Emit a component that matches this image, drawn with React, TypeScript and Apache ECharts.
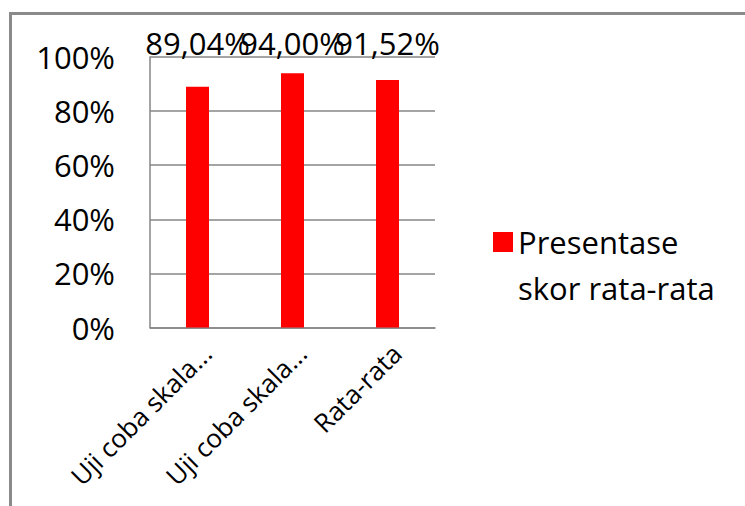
import React, { useEffect, useRef } from "react";
import * as echarts from "echarts";

const categories = ["Uji coba skala...", "Uji coba skala...", "Rata-rata"];
const values = [89.04, 94.0, 91.52];
const seriesName = "Presentase\nskor rata-rata";
const yTicks = [0, 20, 40, 60, 80, 100];

const FONT = "'Open Sans', sans-serif";

export default function App() {
  const ref = useRef<HTMLDivElement>(null);
  useEffect(() => {
    if (!ref.current) return;
    const chart = echarts.init(ref.current, undefined, { renderer: "svg" });
    chart.setOption({
      animation: false,
      backgroundColor: "#fff",
      textStyle: { fontFamily: FONT },
      grid: { left: 150, right: 310, top: 57, bottom: 178.5, containLabel: false },
      legend: {
        data: [seriesName],
        orient: "vertical",
        left: 493,
        top: 173,
        padding: 0,
        itemWidth: 20,
        itemHeight: 20,
        icon: "rect",
        formatter: (name: string) => "\n" + name,
        textStyle: {
          fontFamily: FONT,
          fontSize: 31,
          color: "#000",
          lineHeight: 46,
        },
      },
      xAxis: {
        type: "category",
        data: categories,
        axisLine: { lineStyle: { color: "#868686", width: 1.5 } },
        axisTick: { show: false },
        axisLabel: {
          rotate: 45,
          interval: 0,
          margin: 12,
          verticalAlign: "top",
          fontFamily: FONT,
          fontSize: 26,
          color: "#000",
        },
      },
      yAxis: {
        type: "value",
        min: 0,
        max: 100,
        interval: 20,
        axisLine: { show: true, lineStyle: { color: "#868686", width: 1.5 } },
        axisTick: { show: false },
        splitLine: { lineStyle: { color: "#868686", width: 1.5 } },
        axisLabel: {
          margin: 35,
          fontFamily: FONT,
          fontSize: 31,
          color: "#000",
          formatter: (v: number) => (yTicks.includes(v) ? v + "%" : ""),
        },
      },
      series: [
        {
          name: seriesName,
          type: "bar",
          data: values,
          barWidth: 23,
          itemStyle: { color: "#FF0000" },
          z: 3,
        },
        {
          name: "labels",
          type: "bar",
          data: values.map(() => 100),
          barWidth: 23,
          barGap: "-100%",
          itemStyle: { color: "rgba(0,0,0,0)" },
          silent: true,
          z: 2,
          label: {
            show: true,
            position: "top",
            distance: -1,
            fontFamily: FONT,
            fontSize: 31,
            color: "#000",
            formatter: (p: any) => values[p.dataIndex].toFixed(2).replace(".", ",") + "%",
          },
        },
      ],
      graphic: [
        {
          type: "line",
          shape: { x1: 10.5, y1: 12, x2: 10.5, y2: 506 },
          style: { stroke: "#8a8a8a", lineWidth: 3 },
        },
        {
          type: "line",
          shape: { x1: 9, y1: 13.5, x2: 745, y2: 13.5 },
          style: { stroke: "#8a8a8a", lineWidth: 3 },
        },
      ],
    });
    return () => chart.dispose();
  }, []);
  return <div ref={ref} style={{ width: 745, height: 506, position: "fixed", left: 0, top: 0 }} />;
}
